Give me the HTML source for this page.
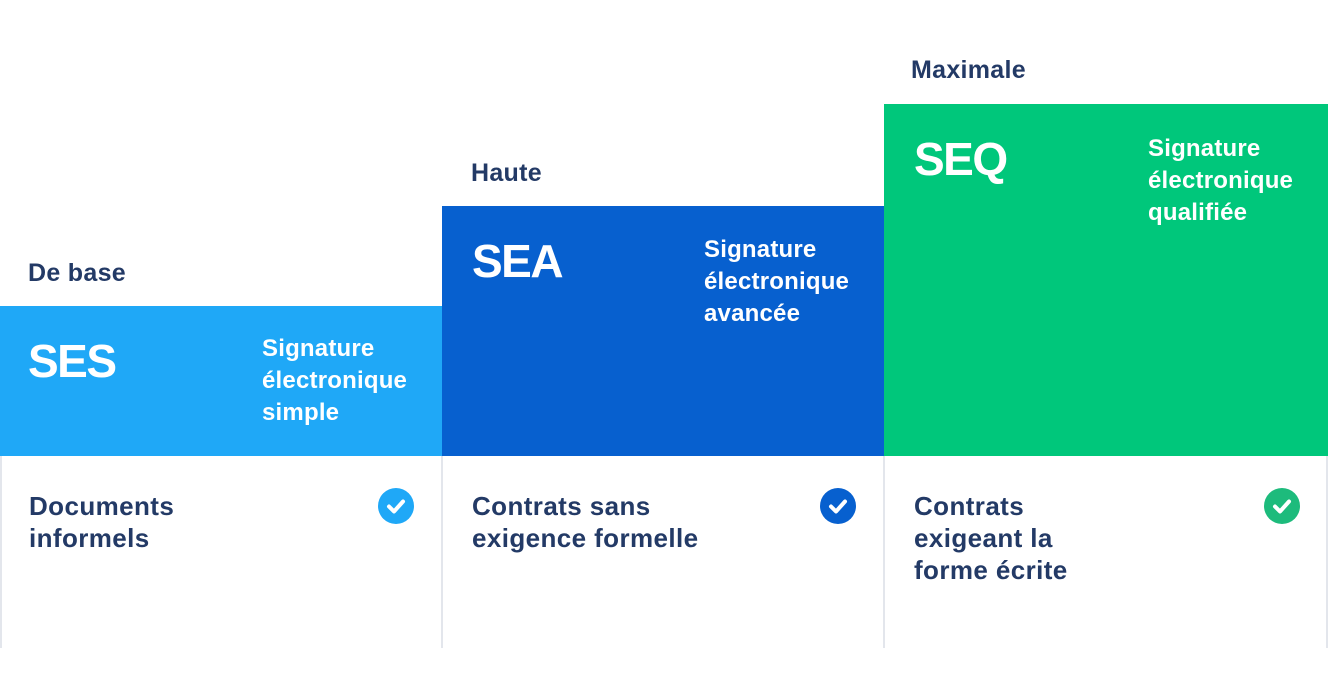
<!DOCTYPE html>
<html><head><meta charset="utf-8"><style>
*{margin:0;padding:0}
body{width:1328px;height:698px;background:#fff;position:relative;overflow:hidden;font-family:"Liberation Sans",sans-serif;font-weight:bold}
.a{position:absolute;white-space:nowrap}
.lbl{font-size:25px;line-height:32px;color:#233a66;letter-spacing:0.3px}
.big{font-size:46px;line-height:47px;color:#fff;letter-spacing:-1.5px}
.side{font-size:24px;line-height:32px;color:#fff;letter-spacing:0.2px}
.body{font-size:26px;line-height:32px;color:#233a66;letter-spacing:0.4px}
.bar{position:absolute}
.vl{position:absolute;top:456px;height:192px;width:2px;background:#e3e6ec}
.ck{position:absolute;width:36px;height:36px;border-radius:50%;top:488px}
.ck svg{position:absolute;left:0;top:0}
</style></head><body>
<div class="bar" style="left:0;top:306px;width:442px;height:150px;background:#1fa8f7"></div>
<div class="bar" style="left:442px;top:206px;width:442px;height:250px;background:#0760cf"></div>
<div class="bar" style="left:884px;top:104px;width:444px;height:352px;background:#00c77b"></div>
<div class="vl" style="left:0"></div>
<div class="vl" style="left:441px"></div>
<div class="vl" style="left:883px"></div>
<div class="vl" style="left:1326px"></div>

<div class="a lbl" style="left:28px;top:257px">De base</div>
<div class="a lbl" style="left:471px;top:157px">Haute</div>
<div class="a lbl" style="left:911px;top:54px">Maximale</div>

<div class="a big" style="left:28px;top:338px">SES</div>
<div class="a big" style="left:472px;top:238px">SEA</div>
<div class="a big" style="left:914px;top:136px">SEQ</div>

<div class="a side" style="left:262px;top:333px">Signature<br>électronique<br>simple</div>
<div class="a side" style="left:704px;top:234px">Signature<br>électronique<br>avancée</div>
<div class="a side" style="left:1148px;top:133px">Signature<br>électronique<br>qualifiée</div>

<div class="a body" style="left:29px;top:490px">Documents<br>informels</div>
<div class="a body" style="left:472px;top:490px">Contrats sans<br>exigence formelle</div>
<div class="a body" style="left:914px;top:490px">Contrats<br>exigeant la<br>forme écrite</div>

<div class="ck" style="left:378px;background:#1fa8f7"><svg width="36" height="36"><path d="M11 18.5l5 5 9-10" stroke="#fff" stroke-width="4" fill="none" stroke-linecap="round" stroke-linejoin="round"/></svg></div>
<div class="ck" style="left:820px;background:#0760cf"><svg width="36" height="36"><path d="M11 18.5l5 5 9-10" stroke="#fff" stroke-width="4" fill="none" stroke-linecap="round" stroke-linejoin="round"/></svg></div>
<div class="ck" style="left:1264px;background:#1dbb7c"><svg width="36" height="36"><path d="M11 18.5l5 5 9-10" stroke="#fff" stroke-width="4" fill="none" stroke-linecap="round" stroke-linejoin="round"/></svg></div>
</body></html>
